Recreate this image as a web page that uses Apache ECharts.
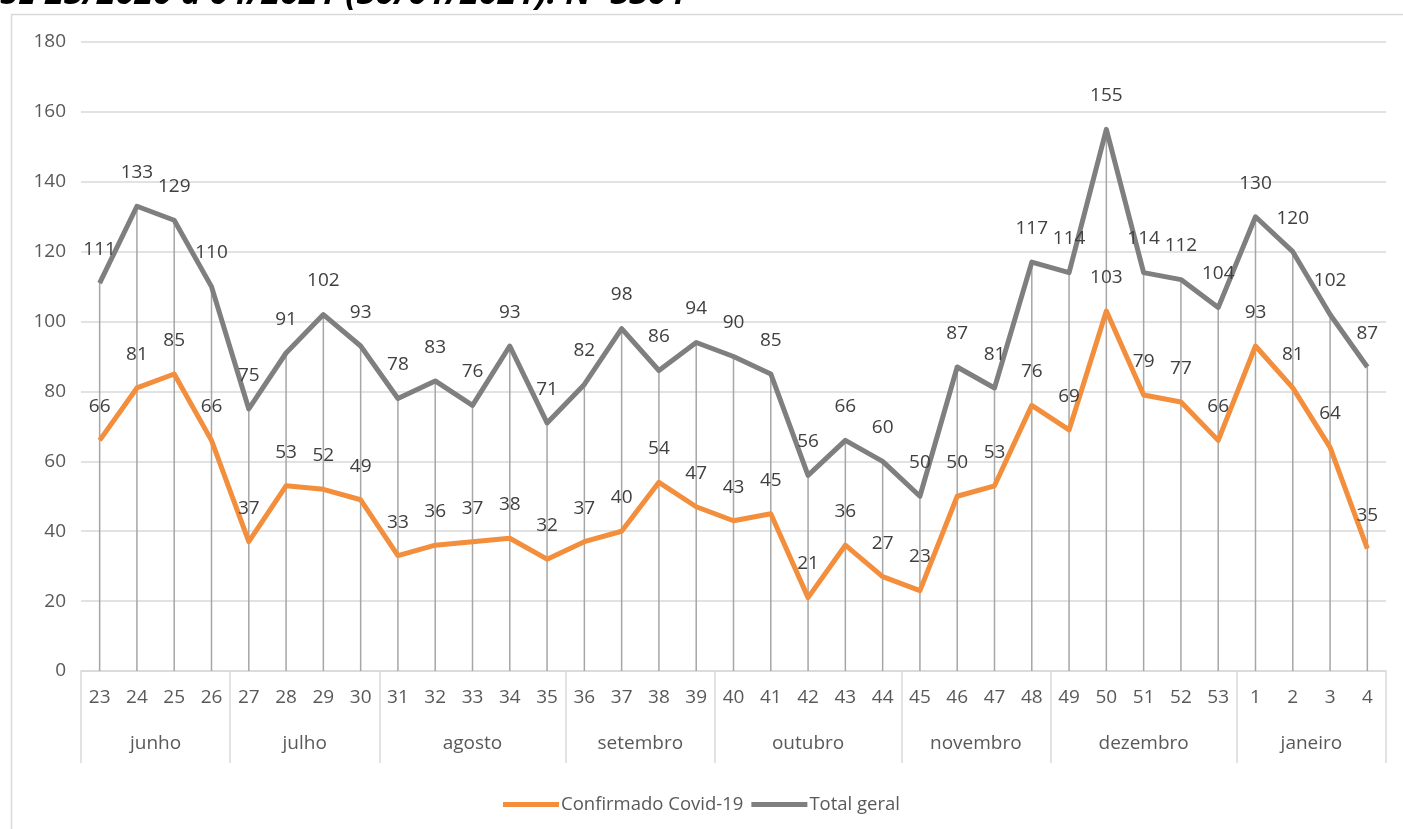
<!DOCTYPE html>
<html>
<head>
<meta charset="utf-8">
<script src="https://cdn.jsdelivr.net/npm/echarts@6/dist/echarts.min.js"></script>
<style>
  html, body { margin: 0; padding: 0; background: #fff; }
  #chart { width: 1403px; height: 829px; }
</style>
</head>
<body>
<div id="chart"></div>
<script>
// semanas epidemiologicas
var semanas = ['23','24','25','26','27','28','29','30','31','32','33','34','35','36','37','38','39',
    '40','41','42','43','44','45','46','47','48','49','50','51','52','53','1','2','3','4'];
var meses = ['junho','julho','agosto','setembro','outubro','novembro','dezembro','janeiro'];
var semanasPorMes = [4, 4, 5, 4, 5, 4, 5, 4];

var confirmados = [66,81,85,66, 37,53,52,49, 33,36,37,38,32, 37,40,54,47, 43,45,21,36,27,
    23,50,53,76, 69,103,79,77,66, 93,81,64,35];
var totalGeral = [111,133,129,110, 75,91,102,93, 78,83,76,93,71, 82,98,86,94, 90,85,56,66,60,
    50,87,81,117, 114,155,114,112,104, 130,120,102,87];

var yTicks = [0, 20, 40, 60, 80, 100, 120, 140, 160, 180];

// limites e centros de cada mes no eixo inferior
var limites = [0];
var centros = [];
for (var i = 0; i < semanasPorMes.length; i++) {
    var ini = limites[limites.length - 1];
    centros.push(ini + semanasPorMes[i] / 2);
    limites.push(ini + semanasPorMes[i]);
}

var fonte = '"Open Sans", sans-serif';
var corTexto = '#595959';

var chart = echarts.init(document.getElementById('chart'));
chart.setOption({
    animation: false,
    backgroundColor: '#fff',
    graphic: [
        {
            type: 'rect', left: 9, top: 12, silent: true,
            shape: { width: 1420, height: 900 },
            style: { fill: 'none', stroke: '#d9d9d9', lineWidth: 1.5 }
        },
        {
            type: 'text', left: 0, top: -23, silent: true,
            style: {
                text: 'SE 23/2020 a 04/2021 (30/01/2021). N=3304',
                font: 'italic bold 34px "Open Sans", sans-serif',
                fill: '#000'
            }
        }
    ],
    grid: { left: 81, right: 17, top: 42, bottom: 158 },
    legend: {
        data: ['Confirmado Covid-19', 'Total geral'],
        top: 790,
        left: 'center',
        icon: 'rect',
        itemWidth: 56,
        itemHeight: 5,
        itemGap: 8,
        textStyle: { fontFamily: fonte, fontSize: 18.5, color: corTexto, padding: [0, 0, 0, -3] }
    },
    xAxis: [
        {
            type: 'category',
            data: semanas,
            position: 'bottom',
            axisLine: { show: true, lineStyle: { color: '#d9d9d9', width: 1.5 } },
            axisTick: { show: false },
            axisLabel: { fontFamily: fonte, fontSize: 19, color: corTexto, margin: 17, interval: 0 }
        },
        {
            type: 'value',
            min: 0,
            max: semanas.length,
            position: 'bottom',
            splitLine: { show: false },
            axisLine: { show: false },
            axisTick: {
                show: true, inside: false, length: 92, customValues: limites,
                lineStyle: { color: '#d9d9d9', width: 1.5 }
            },
            axisLabel: {
                customValues: centros,
                margin: 63,
                fontFamily: fonte, fontSize: 19, color: corTexto,
                formatter: function (v) {
                    var idx = centros.indexOf(v);
                    return idx >= 0 ? meses[idx] : '';
                }
            }
        }
    ],
    yAxis: {
        type: 'value',
        min: 0,
        max: 180,
        interval: 20,
        axisLine: { show: false },
        axisTick: { show: false },
        splitLine: { lineStyle: { color: '#d9d9d9', width: 1.5 } },
        axisLabel: {
            fontFamily: fonte, fontSize: 19, color: corTexto, margin: 15,
            customValues: yTicks
        }
    },
    series: [
        {
            // linhas de projecao (drop lines)
            name: 'drop',
            type: 'bar',
            data: totalGeral,
            barWidth: 1.5,
            silent: true,
            itemStyle: { color: '#a6a6a6' },
            z: 1
        },
        {
            name: 'Total geral',
            type: 'line',
            data: totalGeral,
            showSymbol: true,
            symbol: 'circle',
            symbolSize: 0.1,
            lineStyle: { color: '#7f7f7f', width: 5, join: 'round' },
            itemStyle: { color: '#7f7f7f' },
            label: {
                show: true, position: 'top', distance: 24,
                fontFamily: fonte, fontSize: 19, color: '#404040'
            },
            labelLayout: { hideOverlap: false },
            z: 3
        },
        {
            name: 'Confirmado Covid-19',
            type: 'line',
            data: confirmados,
            showSymbol: true,
            symbol: 'circle',
            symbolSize: 0.1,
            lineStyle: { color: '#f28e3c', width: 5, join: 'round' },
            itemStyle: { color: '#f28e3c' },
            label: {
                show: true, position: 'top', distance: 24,
                fontFamily: fonte, fontSize: 19, color: '#404040'
            },
            labelLayout: { hideOverlap: false },
            z: 4
        }
    ]
});
</script>
</body>
</html>
